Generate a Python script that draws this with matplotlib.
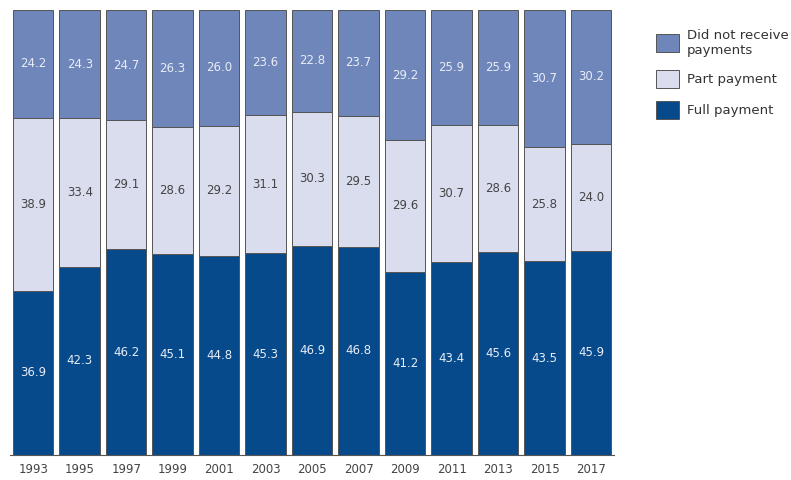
import numpy as np
import matplotlib.pyplot as plt

years = ['1993', '1995', '1997', '1999', '2001', '2003', '2005', '2007',
         '2009', '2011', '2013', '2015', '2017']
full_payment = [36.9, 42.3, 46.2, 45.1, 44.8, 45.3, 46.9, 46.8, 41.2, 43.4, 45.6, 43.5, 45.9]
part_payment = [38.9, 33.4, 29.1, 28.6, 29.2, 31.1, 30.3, 29.5, 29.6, 30.7, 28.6, 25.8, 24.0]
no_payment = [24.2, 24.3, 24.7, 26.3, 26.0, 23.6, 22.8, 23.7, 29.2, 25.9, 25.9, 30.7, 30.2]

c_full = '#064a8c'
c_part = '#d9ddee'
c_none = '#6f86bb'

fig = plt.figure(figsize=(7.91, 4.80), dpi=100)
ax = fig.add_axes([0.0126, 0.052, 0.764, 0.927])

x = np.arange(len(years))
w = 0.87
full = np.array(full_payment)
part = np.array(part_payment)
none = np.array(no_payment)

edge = dict(edgecolor='#555555', linewidth=0.7)
b1 = ax.bar(x, full, w, color=c_full, label='Full payment', **edge)
b2 = ax.bar(x, part, w, bottom=full, color=c_part, label='Part payment', **edge)
b3 = ax.bar(x, none, w, bottom=full + part, color=c_none,
            label='Did not receive\npayments', **edge)

for i in range(len(years)):
    ax.text(x[i], full[i] / 2, '%.1f' % full[i], ha='center', va='center',
            color='#e8ecf5', fontsize=8.5)
    ax.text(x[i], full[i] + part[i] / 2, '%.1f' % part[i], ha='center', va='center',
            color='#444444', fontsize=8.5)
    ax.text(x[i], full[i] + part[i] + none[i] / 2, '%.1f' % none[i], ha='center',
            va='center', color='#e8ecf5', fontsize=8.5)

ax.set_xlim(-0.5, len(years) - 0.5)
ax.set_ylim(0, 100)
ax.set_xticks(x)
ax.set_xticklabels(years, fontsize=8.5, color='#444444')
ax.tick_params(axis='x', length=0, pad=6)
ax.set_yticks([])
for s in ['top', 'right', 'left']:
    ax.spines[s].set_visible(False)
ax.spines['bottom'].set_color('#555555')

ax.legend(handles=[b3, b2, b1], loc='upper left', bbox_to_anchor=(1.05, 0.985),
          frameon=False, fontsize=9.5, labelcolor='#333333',
          handlelength=1.7, handleheight=1.7, labelspacing=1.0, handletextpad=0.6)

plt.savefig('out.png')
